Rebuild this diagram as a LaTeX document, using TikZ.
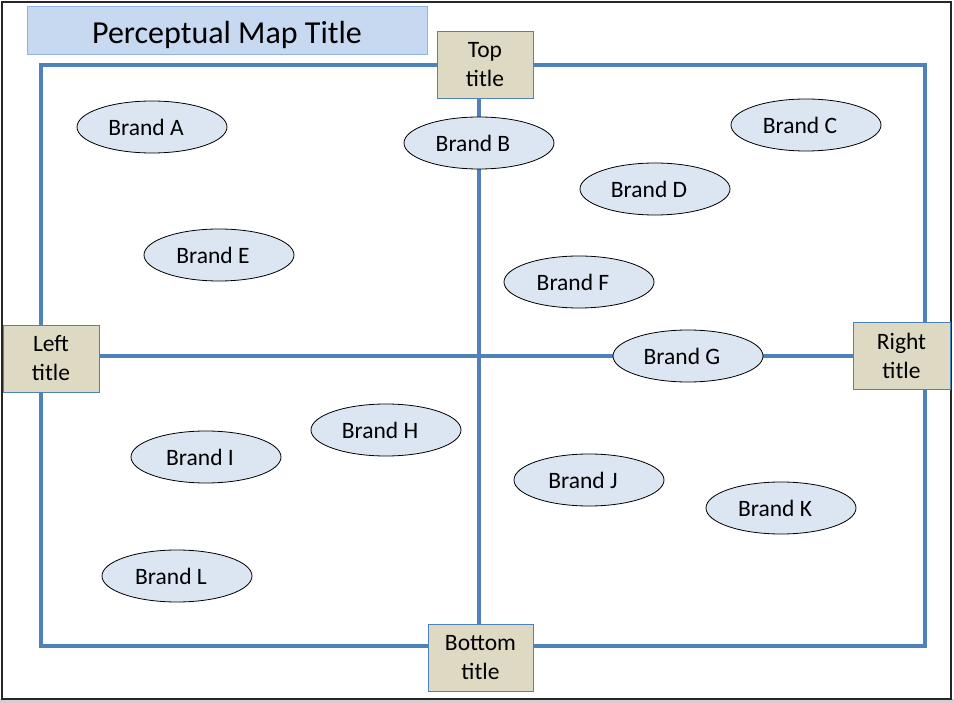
\documentclass[tikz,border=0pt]{standalone}
\usepackage{fontspec}
\setmainfont{Carlito}
\usetikzlibrary{shapes.geometric, backgrounds}

\definecolor{axisblue}{HTML}{4F81BD}
\definecolor{titlefill}{HTML}{C6D9F1}
\definecolor{titleedge}{HTML}{8EB4E3}
\definecolor{sandfill}{HTML}{DDD9C3}
\definecolor{brandfill}{HTML}{DCE6F2}

\begin{document}
\begin{tikzpicture}[
    x=1pt, y=-1pt,
    maptitle/.style = {rectangle, draw=titleedge, fill=titlefill, line width=1pt, minimum width=400pt, minimum height=48pt, inner sep=0pt, font=\fontsize{32}{38}\selectfont, execute at begin node=\rule{0pt}{31pt}},
    axisbox/.style = {rectangle, draw=axisblue, fill=sandfill, line width=0.8pt, align=center, minimum width=96pt, minimum height=67pt, inner sep=0pt, font=\fontsize{23.5}{29}\selectfont},
    brand/.style = {ellipse, draw, fill=brandfill, line width=0.8pt, minimum width=150pt, minimum height=52pt, inner sep=0pt, font=\fontsize{23.5}{28}\selectfont, execute at end node=\hspace*{12pt}},
    axis/.style = {axisblue, line width=4pt}
]
\useasboundingbox (0,0) rectangle (954,703);

% Define nodes
\node[maptitle] (title) at (227,31) {Perceptual Map Title};
\node[axisbox] (toptitle) at (485,65) {Top\\title};
\node[axisbox] (lefttitle) at (51,358.5) {Left\\title};
\node[axisbox, minimum width=97pt] (righttitle) at (901.5,355.5) {Right\\title};
\node[axisbox, minimum width=105pt] (bottomtitle) at (480.5,657.5) {Bottom\\title};

\node[brand] (brandA) at (152,127) {Brand A};
\node[brand] (brandB) at (479,143) {Brand B};
\node[brand] (brandC) at (806,125) {Brand C};
\node[brand] (brandD) at (655,189) {Brand D};
\node[brand] (brandE) at (219,255) {Brand E};
\node[brand] (brandF) at (579,282) {Brand F};
\node[brand] (brandG) at (688,356) {Brand G};
\node[brand] (brandH) at (386,430) {Brand H};
\node[brand] (brandI) at (206,457) {Brand I};
\node[brand] (brandJ) at (589,480) {Brand J};
\node[brand] (brandK) at (781,508) {Brand K};
\node[brand] (brandL) at (177,576) {Brand L};

\coordinate (nw) at (41,65);
\coordinate (se) at (925,646);

% Draw axes and frame
\begin{scope}[on background layer]
\fill[black!18] (0,699) rectangle (954,703);
\draw[black!85, line width=1.2pt] (2,2) rectangle (951,699);
\draw[axis] (nw) rectangle (se);
\draw[axis] (toptitle -| brandB) -- (bottomtitle -| brandB);
\draw[axis] (lefttitle.east |- brandG) -- (righttitle.west |- brandG);
\end{scope}

\end{tikzpicture}
\end{document}
